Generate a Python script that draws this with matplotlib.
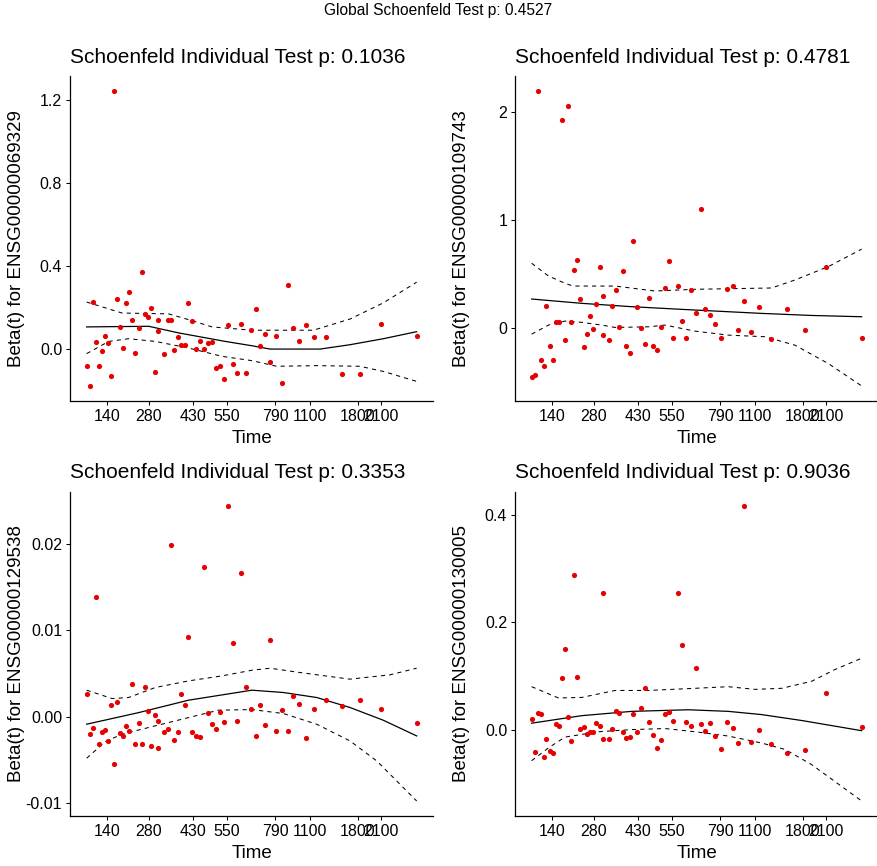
import matplotlib
matplotlib.use("Agg")
import matplotlib.pyplot as plt

plt.rcParams["font.family"] = ["Liberation Sans", "DejaVu Sans"]

# km-transformed event times (shared by all four covariates)
time_km = [0.000, 0.009, 0.018, 0.027, 0.036, 0.045, 0.055, 0.064, 0.073, 0.082,
           0.091, 0.100, 0.109, 0.118, 0.127, 0.136, 0.148, 0.158, 0.167, 0.176,
           0.185, 0.194, 0.206, 0.215, 0.215, 0.233, 0.245, 0.255, 0.264, 0.276,
           0.285, 0.297, 0.306, 0.318, 0.330, 0.342, 0.355, 0.367, 0.379, 0.391,
           0.403, 0.415, 0.427, 0.442, 0.455, 0.467, 0.482, 0.497, 0.512, 0.524,
           0.539, 0.555, 0.573, 0.591, 0.609, 0.624, 0.642, 0.664, 0.688, 0.724,
           0.773, 0.827, 0.891, 1.000]
tick_pos = [0.063, 0.189, 0.321, 0.424, 0.571, 0.677, 0.821, 0.892]
tick_labels = ["140", "280", "430", "550", "790", "1100", "1800", "2100"]

genes = ["ENSG00000069329", "ENSG00000109743", "ENSG00000129538", "ENSG00000130005"]
pvals = ["0.1036", "0.4781", "0.3353", "0.9036"]
global_p = "0.4527"

# scaled Schoenfeld residuals
resid_069329 = [-0.084, -0.180, 0.224, 0.032, -0.084, -0.011, 0.061, 0.027, -0.132, 1.245,
                0.240, 0.105, 0.003, 0.221, 0.274, 0.139, -0.021, 0.101, 0.370, 0.166,
                0.153, 0.197, -0.113, 0.085, 0.139, -0.026, 0.139, 0.139, -0.006, 0.056,
                0.018, 0.018, 0.221, 0.134, -0.002, 0.037, -0.002, 0.027, 0.032, -0.093,
                -0.084, -0.147, 0.114, -0.074, -0.118, 0.119, -0.118, 0.090, 0.192, 0.013,
                0.071, -0.064, 0.061, -0.166, 0.308, 0.100, 0.037, 0.114, 0.056, 0.056,
                -0.122, -0.122, 0.119, 0.061]
resid_109743 = [-0.448, -0.430, 2.195, -0.291, -0.355, 0.201, -0.161, -0.291, 0.053, 0.053,
                1.926, -0.114, 2.056, 0.053, 0.535, 0.628, 0.266, -0.179, -0.059, 0.108,
                -0.012, 0.219, 0.563, 0.294, -0.068, -0.114, 0.201, 0.349, 0.006, 0.526,
                -0.161, -0.226, 0.804, 0.192, -0.003, -0.151, 0.275, -0.170, -0.198, 0.006,
                0.368, 0.618, -0.087, 0.386, 0.062, -0.096, 0.349, 0.136, 1.100, 0.173,
                0.117, 0.034, -0.096, 0.359, 0.386, -0.022, 0.247, -0.040, 0.192, -0.105,
                0.173, -0.022, 0.563, -0.087]
resid_129538 = [0.00256, -0.00197, -0.00128, 0.01382, -0.00314, -0.00174, -0.00151, -0.00279,
                0.00139, -0.00546, 0.00163, -0.00186, -0.00221, -0.00105, -0.00163, 0.00372,
                -0.00314, -0.00070, -0.00314, 0.00348, 0.00070, -0.00337, 0.00023, -0.00360,
                -0.00046, -0.00174, -0.00139, 0.01986, -0.00267, -0.00174, 0.00267, 0.00139,
                0.00918, -0.00174, -0.00221, -0.00232, 0.01731, 0.00046, -0.00081, -0.00139,
                0.00058, -0.00058, 0.02439, 0.00848, -0.00046, 0.01672, 0.00348, 0.00093,
                -0.00221, 0.00139, -0.00093, 0.00883, -0.00163, 0.00081, -0.00163, 0.00244,
                0.00151, -0.00244, 0.00093, 0.00197, 0.00128, 0.00197, 0.00093, -0.00070]
resid_130005 = [0.020, -0.042, 0.031, 0.029, -0.051, -0.017, -0.040, -0.044, 0.011, 0.007,
                0.097, 0.151, 0.024, -0.021, 0.289, 0.098, 0.001, 0.005, -0.008, -0.004,
                -0.004, 0.012, 0.007, -0.017, 0.255, -0.017, 0.001, 0.035, 0.031, -0.004,
                -0.016, -0.014, 0.029, -0.004, 0.040, 0.078, 0.014, -0.010, -0.034, -0.019,
                0.029, 0.033, 0.016, 0.254, 0.158, 0.014, 0.007, 0.115, 0.011, -0.002,
                0.012, -0.012, -0.036, 0.014, 0.003, -0.025, 0.416, -0.023, -0.001, -0.027,
                -0.044, -0.038, 0.069, 0.005]

# smoothed beta(t) with confidence band
fit_t_1 = [0, 0.188, 0.279, 0.420, 0.501, 0.556, 0.707, 0.798, 0.899, 1.0]
fit_1 = [0.105, 0.108, 0.076, 0.035, 0.014, -0.002, -0.002, 0.019, 0.048, 0.082]
up_t_1 = [0, 0.107, 0.248, 0.309, 0.380, 0.501, 0.687, 0.798, 0.899, 1.0]
up_1 = [0.225, 0.172, 0.168, 0.140, 0.105, 0.089, 0.089, 0.143, 0.221, 0.321]
lo_t_1 = [0, 0.067, 0.127, 0.208, 0.309, 0.410, 0.501, 0.576, 0.697, 0.828, 0.899, 1.0]
lo_1 = [-0.024, 0.035, 0.048, 0.035, 0.003, -0.037, -0.058, -0.085, -0.082, -0.085, -0.110, -0.158]

fit_t_2 = [0, 0.152, 0.303, 0.495, 0.697, 0.848, 1.0]
fit_2 = [0.269, 0.229, 0.198, 0.167, 0.136, 0.117, 0.105]
up_t_2 = [0, 0.051, 0.101, 0.126, 0.253, 0.374, 0.495, 0.727, 0.798, 0.899, 1.0]
up_2 = [0.600, 0.482, 0.414, 0.389, 0.389, 0.343, 0.359, 0.371, 0.445, 0.569, 0.730]
lo_t_2 = [0, 0.051, 0.101, 0.152, 0.212, 0.253, 0.354, 0.404, 0.495, 0.596, 0.707, 0.798, 0.899, 1.0]
lo_2 = [-0.056, 0.028, 0.065, 0.053, 0.028, 0.006, 0.012, 0.028, -0.028, -0.065, -0.080, -0.158, -0.328, -0.535]

fit_t_3 = [0, 0.158, 0.309, 0.501, 0.596, 0.697, 0.798, 0.899, 1.0]
fit_3 = [-0.00089, 0.00046, 0.00190, 0.00306, 0.00279, 0.00221, 0.00105, -0.00043, -0.00225]
up_t_3 = [0, 0.077, 0.127, 0.208, 0.309, 0.410, 0.501, 0.556, 0.646, 0.798, 0.919, 1.0]
up_3 = [0.00306, 0.00209, 0.00221, 0.00337, 0.00414, 0.00472, 0.00538, 0.00561, 0.00511,
        0.00434, 0.00484, 0.00561]
lo_t_3 = [0, 0.057, 0.107, 0.208, 0.309, 0.400, 0.501, 0.596, 0.697, 0.798, 0.879, 1.0]
lo_3 = [-0.00484, -0.00290, -0.00205, -0.00108, -0.00012, 0.00074, 0.00081, 0.00035,
        -0.00089, -0.00283, -0.00515, -0.00980]

fit_t_4 = [0, 0.152, 0.303, 0.475, 0.596, 0.697, 0.818, 1.0]
fit_4 = [0.012, 0.026, 0.034, 0.037, 0.034, 0.028, 0.017, -0.002]
up_t_4 = [0, 0.081, 0.152, 0.253, 0.354, 0.495, 0.596, 0.677, 0.758, 0.848, 0.919, 1.0]
up_4 = [0.080, 0.059, 0.060, 0.073, 0.073, 0.077, 0.080, 0.075, 0.077, 0.090, 0.112, 0.133]
lo_t_4 = [0, 0.051, 0.101, 0.202, 0.303, 0.404, 0.495, 0.596, 0.697, 0.768, 0.848, 1.0]
lo_4 = [-0.058, -0.034, -0.014, -0.004, 0.000, 0.002, -0.004, -0.012, -0.025, -0.037, -0.065, -0.133]

y_ticks = [[0.0, 0.4, 0.8, 1.2], [0, 1, 2], [-0.01, 0.0, 0.01, 0.02], [0.0, 0.2, 0.4]]
y_fmt = ["{:.1f}", "{:.0f}", "{:.2f}", "{:.1f}"]

panels = [
    (resid_069329, fit_t_1, fit_1, up_t_1, up_1, lo_t_1, lo_1),
    (resid_109743, fit_t_2, fit_2, up_t_2, up_2, lo_t_2, lo_2),
    (resid_129538, fit_t_3, fit_3, up_t_3, up_3, lo_t_3, lo_3),
    (resid_130005, fit_t_4, fit_4, up_t_4, up_4, lo_t_4, lo_4),
]

# axes boxes in figure fractions: left, bottom, width, height
boxes = [
    [0.0800, 0.5373, 0.4139, 0.3749],
    [0.5874, 0.5373, 0.4139, 0.3749],
    [0.0800, 0.0581, 0.4139, 0.3741],
    [0.5874, 0.0581, 0.4139, 0.3741],
]

fig = plt.figure(figsize=(8.77, 8.66), dpi=100)
fig.text(0.5, 1 - 10 / 866, f"Global Schoenfeld Test p: {global_p}",
         ha="center", va="center", fontsize=11.2)

for i, (resid, ft, fv, ut, uv, lt, lv) in enumerate(panels):
    ax = fig.add_axes(boxes[i])
    ax.scatter(time_km, resid, s=14, color="#e60000", linewidths=0, zorder=3)
    ax.plot(ft, fv, color="black", lw=0.9)
    ax.plot(ut, uv, color="black", lw=0.75, linestyle=(0, (4, 4)))
    ax.plot(lt, lv, color="black", lw=0.75, linestyle=(0, (4, 4)))
    ax.margins(x=0.05, y=0.05)

    ax.set_xticks(tick_pos)
    ax.set_xticklabels(tick_labels)
    ax.set_yticks(y_ticks[i])
    ax.set_yticklabels([y_fmt[i].format(v) for v in y_ticks[i]])
    ax.tick_params(axis="both", direction="out", length=2.75, width=0.75,
                   labelsize=11.5, colors="black", pad=3)

    for side in ("top", "right"):
        ax.spines[side].set_visible(False)
    for side in ("left", "bottom"):
        ax.spines[side].set_linewidth(0.9)

    ax.set_xlabel("Time", fontsize=13.5)
    ax.set_ylabel(f"Beta(t) for {genes[i]}", fontsize=13.5)
    ax.xaxis.set_label_coords(0.5, -0.09)
    ax.yaxis.set_label_coords(-0.125, 0.5)
    ax.text(0.0, 1.058, f"Schoenfeld Individual Test p: {pvals[i]}",
            transform=ax.transAxes, ha="left", va="center", fontsize=15)

fig.savefig("out.png", dpi=100, facecolor="white")
